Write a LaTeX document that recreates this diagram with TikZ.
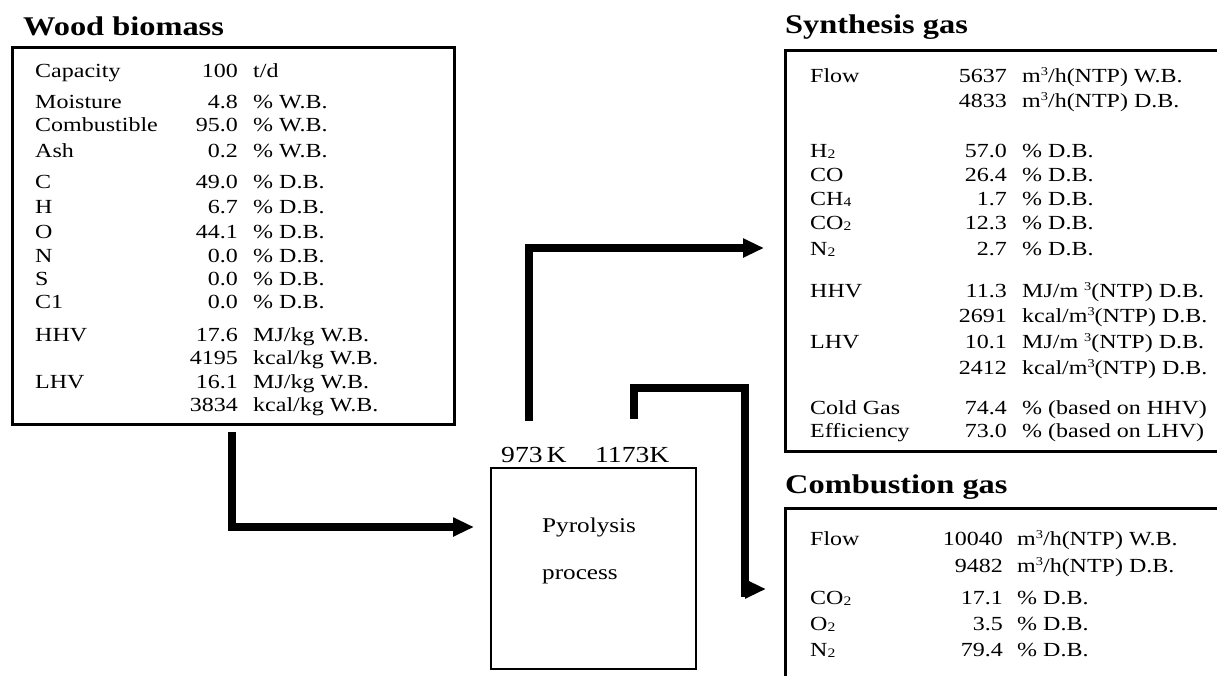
\documentclass[tikz,border=0pt]{standalone}
\usepackage{fontspec}
\setmainfont{Liberation Serif}[FakeStretch=1.2]
\usetikzlibrary{arrows.meta}
\newcommand{\lsub}[1]{\raisebox{-1pt}{\fontsize{13}{13}\selectfont #1}}
\newcommand{\msup}{\raisebox{6.5pt}{\fontsize{12}{12}\selectfont 3}}
\begin{document}
\begin{tikzpicture}[x=1pt,y=-1pt,
  lbl/.style={anchor=base west,inner sep=0,font=\fontsize{20}{24}\selectfont},
  num/.style={anchor=base east,inner sep=0,font=\fontsize{20}{24}\selectfont},
  ttl/.style={anchor=base west,inner sep=0,font=\fontsize{27}{30}\selectfont\bfseries},
  panel/.style={draw,line width=3pt,inner sep=0,anchor=north west},
  flow/.style={line width=8pt,line join=miter,-{Triangle[length=21pt,width=18pt]}},
  bar/.style={line width=8pt,line join=miter},
 ]
\useasboundingbox (0,0) rectangle (1217,675);
\fill[white] (0,0) rectangle (1217,675);

% ---------- Wood biomass ----------
\node[ttl] (wt) at (23,35) {Wood biomass};
\node[panel,minimum width=442pt,minimum height=377pt] (wood) at (11,46) {};
\foreach \y/\l/\n/\u [count=\i] in {
  77/Capacity/100/{t/d},
  108/Moisture/4.8/{\% W.B.},
  131/Combustible/95.0/{\% W.B.},
  157/Ash/0.2/{\% W.B.},
  188/C/49.0/{\% D.B.},
  213/H/6.7/{\% D.B.},
  238/O/44.1/{\% D.B.},
  262/N/0.0/{\% D.B.},
  285/S/0.0/{\% D.B.},
  308/C1/0.0/{\% D.B.},
  341/HHV/17.6/{MJ/kg W.B.},
  364/{}/4195/{kcal/kg W.B.},
  388/LHV/16.1/{MJ/kg W.B.},
  411/{}/3834/{kcal/kg W.B.}}{
  \node[lbl] (wl\i) at (35,\y) {\l};
  \node[num] (wn\i) at (238,\y) {\n};
  \node[lbl] (wu\i) at (253,\y) {\u};
}

% ---------- Synthesis gas ----------
\node[ttl] (st) at (785,33) {Synthesis gas};
\node[panel,minimum width=450pt,minimum height=401pt] (syn) at (784,49) {};
\foreach \y/\l/\n/\u [count=\i] in {
  82/Flow/5637/{m\msup/h(NTP) W.B.},
  107/{}/4833/{m\msup/h(NTP) D.B.},
  157/{H\lsub{2}}/57.0/{\% D.B.},
  181/CO/26.4/{\% D.B.},
  205/{CH\lsub{4}}/1.7/{\% D.B.},
  229/{CO\lsub{2}}/12.3/{\% D.B.},
  255/{N\lsub{2}}/2.7/{\% D.B.},
  297/HHV/11.3/{MJ/m \msup(NTP) D.B.},
  322/{}/2691/{kcal/m\msup(NTP) D.B.},
  348/LHV/10.1/{MJ/m \msup(NTP) D.B.},
  374/{}/2412/{kcal/m\msup(NTP) D.B.},
  414/Cold Gas/74.4/{\% (based on HHV)},
  437/Efficiency/73.0/{\% (based on LHV)}}{
  \node[lbl] (sl\i) at (810,\y) {\l};
  \node[num] (sn\i) at (1007,\y) {\n};
  \node[lbl] (su\i) at (1022,\y) {\u};
}

% ---------- Combustion gas ----------
\node[ttl] (ct) at (785,493) {Combustion gas};
\node[panel,minimum width=450pt,minimum height=200pt] (comb) at (784,507) {};
\foreach \y/\l/\n/\u [count=\i] in {
  545/Flow/10040/{m\msup/h(NTP) W.B.},
  572/{}/9482/{m\msup/h(NTP) D.B.},
  604/{CO\lsub{2}}/17.1/{\% D.B.},
  630/{O\lsub{2}}/3.5/{\% D.B.},
  656/{N\lsub{2}}/79.4/{\% D.B.}}{
  \node[lbl] (cl\i) at (810,\y) {\l};
  \node[num] (cn\i) at (1003,\y) {\n};
  \node[lbl] (cu\i) at (1017,\y) {\u};
}

% ---------- Pyrolysis ----------
\node[draw,line width=2pt,inner sep=0,anchor=north west,minimum width=205pt,minimum height=201pt] (pyro) at (490,467) {};
\node[lbl,font=\fontsize{21}{24}\selectfont] (py1) at (542,532) {Pyrolysis};
\node[lbl,font=\fontsize{21}{24}\selectfont] (py2) at (542,579) {process};
\node[lbl,font=\fontsize{23}{26}\selectfont] (t1) at (501,462) {973\hspace{4pt}K};
\node[lbl,font=\fontsize{23}{26}\selectfont] (t2) at (595,462) {1173K};

% ---------- Connectors ----------
\coordinate (a1s) at (232,432);
\coordinate (a1e) at (474,527);
\draw[flow] (a1s) |- (a1e);

\coordinate (a2s) at (529,421);
\coordinate (a2e) at (764,248);
\draw[flow] (a2s) |- (a2e);

\coordinate (a3s) at (634,419);
\coordinate (a3c) at (745,388);
\coordinate (a3d) at (745,597);
\coordinate (a3h) at (741,589);
\coordinate (a3e) at (766,589);
\draw[bar] (a3s) |- (a3c) -- (a3d);
\draw[flow] (a3h) -- (a3e);
\end{tikzpicture}
\end{document}
